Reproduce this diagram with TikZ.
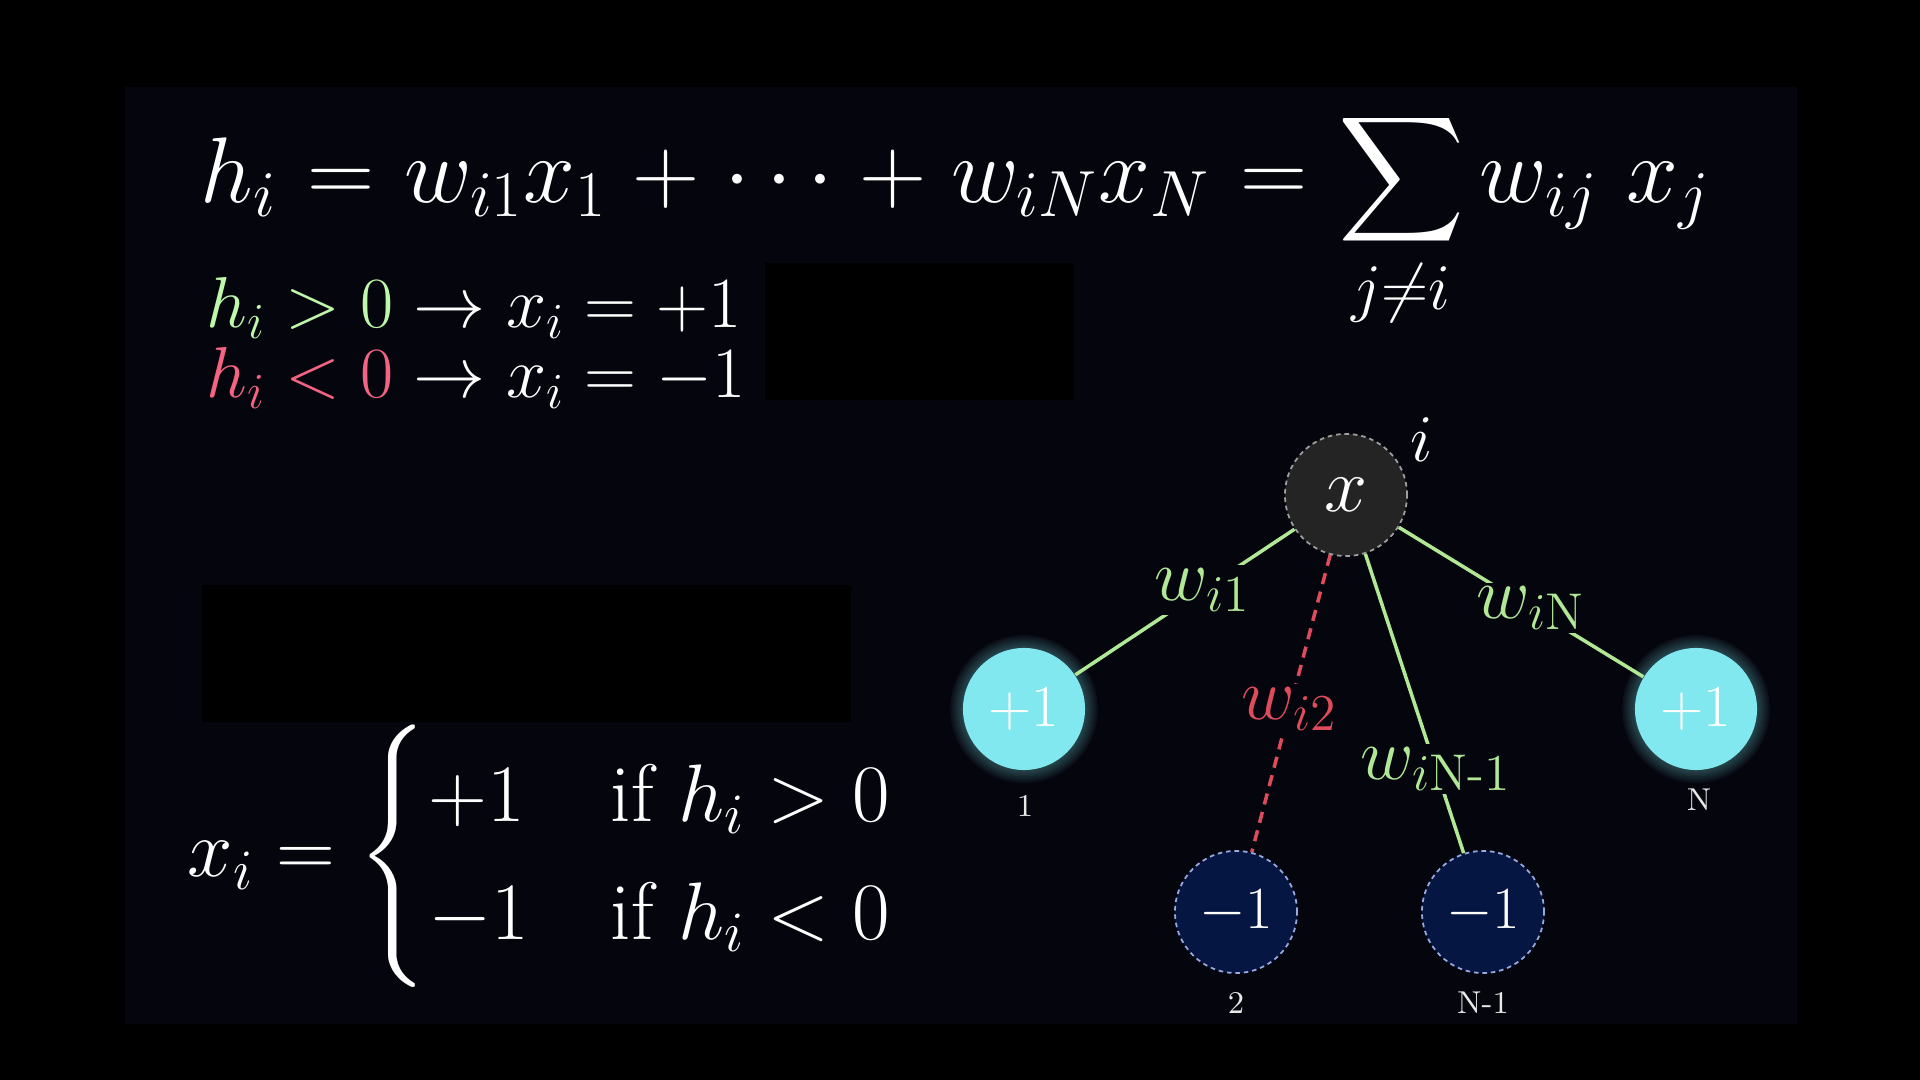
\RequirePackage{fix-cm}
\documentclass[tikz,border=0pt]{standalone}
\usepackage{amsmath}
\usetikzlibrary{backgrounds}

\definecolor{panelbg}{RGB}{5,5,14}
\definecolor{wgreen}{RGB}{176,232,150}
\definecolor{wred}{RGB}{222,76,92}
\definecolor{hgreen}{RGB}{190,248,170}
\definecolor{hpink}{RGB}{244,100,130}
\definecolor{spinup}{RGB}{128,232,238}
\definecolor{spindown}{RGB}{6,22,66}
\definecolor{spinrim}{RGB}{150,170,225}
\definecolor{xfill}{RGB}{36,36,36}

\begin{document}
\begin{tikzpicture}[x=0.01cm, y=-0.01cm,
  eq/.style={text=white, inner sep=0pt, anchor=base west},
  up/.style={circle, minimum size=1.22cm, inner sep=0pt, fill=spinup, text=white,
             font=\fontsize{17}{20}\selectfont},
  down/.style={circle, minimum size=1.22cm, inner sep=0pt, fill=spindown, draw=spinrim,
               dash pattern=on 1.3pt off 1.1pt, line width=0.5pt, text=white,
               font=\fontsize{17}{20}\selectfont},
  mid/.style={circle, minimum size=1.22cm, inner sep=0pt, fill=xfill, draw=gray!75,
              dash pattern=on 1.3pt off 1.1pt, line width=0.5pt, text=white,
              font=\fontsize{22}{26}\selectfont},
  idx/.style={text=white!82!gray, inner sep=0pt, font=\fontsize{9}{11}\selectfont},
  wlab/.style={fill=panelbg, inner sep=1pt, font=\fontsize{21}{25}\selectfont},
  bond/.style={wgreen, line width=1pt},
  antibond/.style={wred, line width=1pt, dash pattern=on 3.2pt off 2.2pt}]
  \useasboundingbox (0,0) rectangle (1920,1080);

  % equations
  \node[eq, font=\fontsize{26.5}{31}\selectfont] (field) at (200,203)
    {$\thickmuskip=5.9mu \medmuskip=4.9mu
      \displaystyle h_i = w_{i1}x_1 + \cdots + w_{iN}x_N = \sum_{j\neq i} w_{ij}\ x_j$};
  \node[eq, font=\fontsize{20.5}{24}\selectfont] (rulep) at (206,328)
    {${\color{hgreen}h_i > 0} \to x_i = +1$};
  \node[eq, font=\fontsize{20.5}{24}\selectfont] (rulem) at (206,398)
    {${\color{hpink}h_i < 0} \to x_i = -1$};
  \node[eq, font=\fontsize{23.2}{28}\selectfont] (update) at (187,877)
    {$x_i = \begin{cases} +1 & \text{if } h_i > 0\\ -1 & \text{if } h_i < 0 \end{cases}$};

  % neurons
  \node[mid] (xi) at (1346,495) {$x$};
  \node[text=white, inner sep=0pt, font=\fontsize{19}{22}\selectfont] (ilab) at (1422,440) {$i$};
  \node[up] (s1) at (1024,709) {$+1$};
  \node[down] (s2) at (1236,912) {$-1$};
  \node[down] (sN1) at (1483,912) {$-1$};
  \node[up] (sN) at (1696,709) {$+1$};
  \node[idx] (l1) at (1025,806) {1};
  \node[idx] (l2) at (1236,1003) {2};
  \node[idx] (lN1) at (1483,1003) {N-1};
  \node[idx] (lN) at (1699,800) {N};

  \begin{scope}[on background layer]
    \fill[black] (0,0) rectangle (1920,1080);
    \fill[panelbg] (125,87) rectangle (1797,1024);
    \fill[black] (765,263) rectangle (1074,400);
    \fill[black] (202,585) rectangle (851,722);
    \foreach \g in {1,...,6} {
      \fill[spinup, opacity=0.05] (s1.center) circle [radius=17.4pt+\g*0.6pt];
      \fill[spinup, opacity=0.05] (sN.center) circle [radius=17.4pt+\g*0.6pt];
    }
    \draw[bond] (xi) -- node[wlab, pos=0.42, text=wgreen] {$w_{i1}$} (s1);
    \draw[antibond] (xi) -- node[wlab, pos=0.52, text=wred] {$w_{i2}$} (s2);
    \draw[bond] (xi) -- node[wlab, pos=0.72, text=wgreen] {$w_{i\text{N-1}}$} (sN1);
    \draw[bond] (xi) -- node[wlab, pos=0.54, text=wgreen] {$w_{i\mathrm{N}}$} (sN);
  \end{scope}
\end{tikzpicture}
\end{document}
